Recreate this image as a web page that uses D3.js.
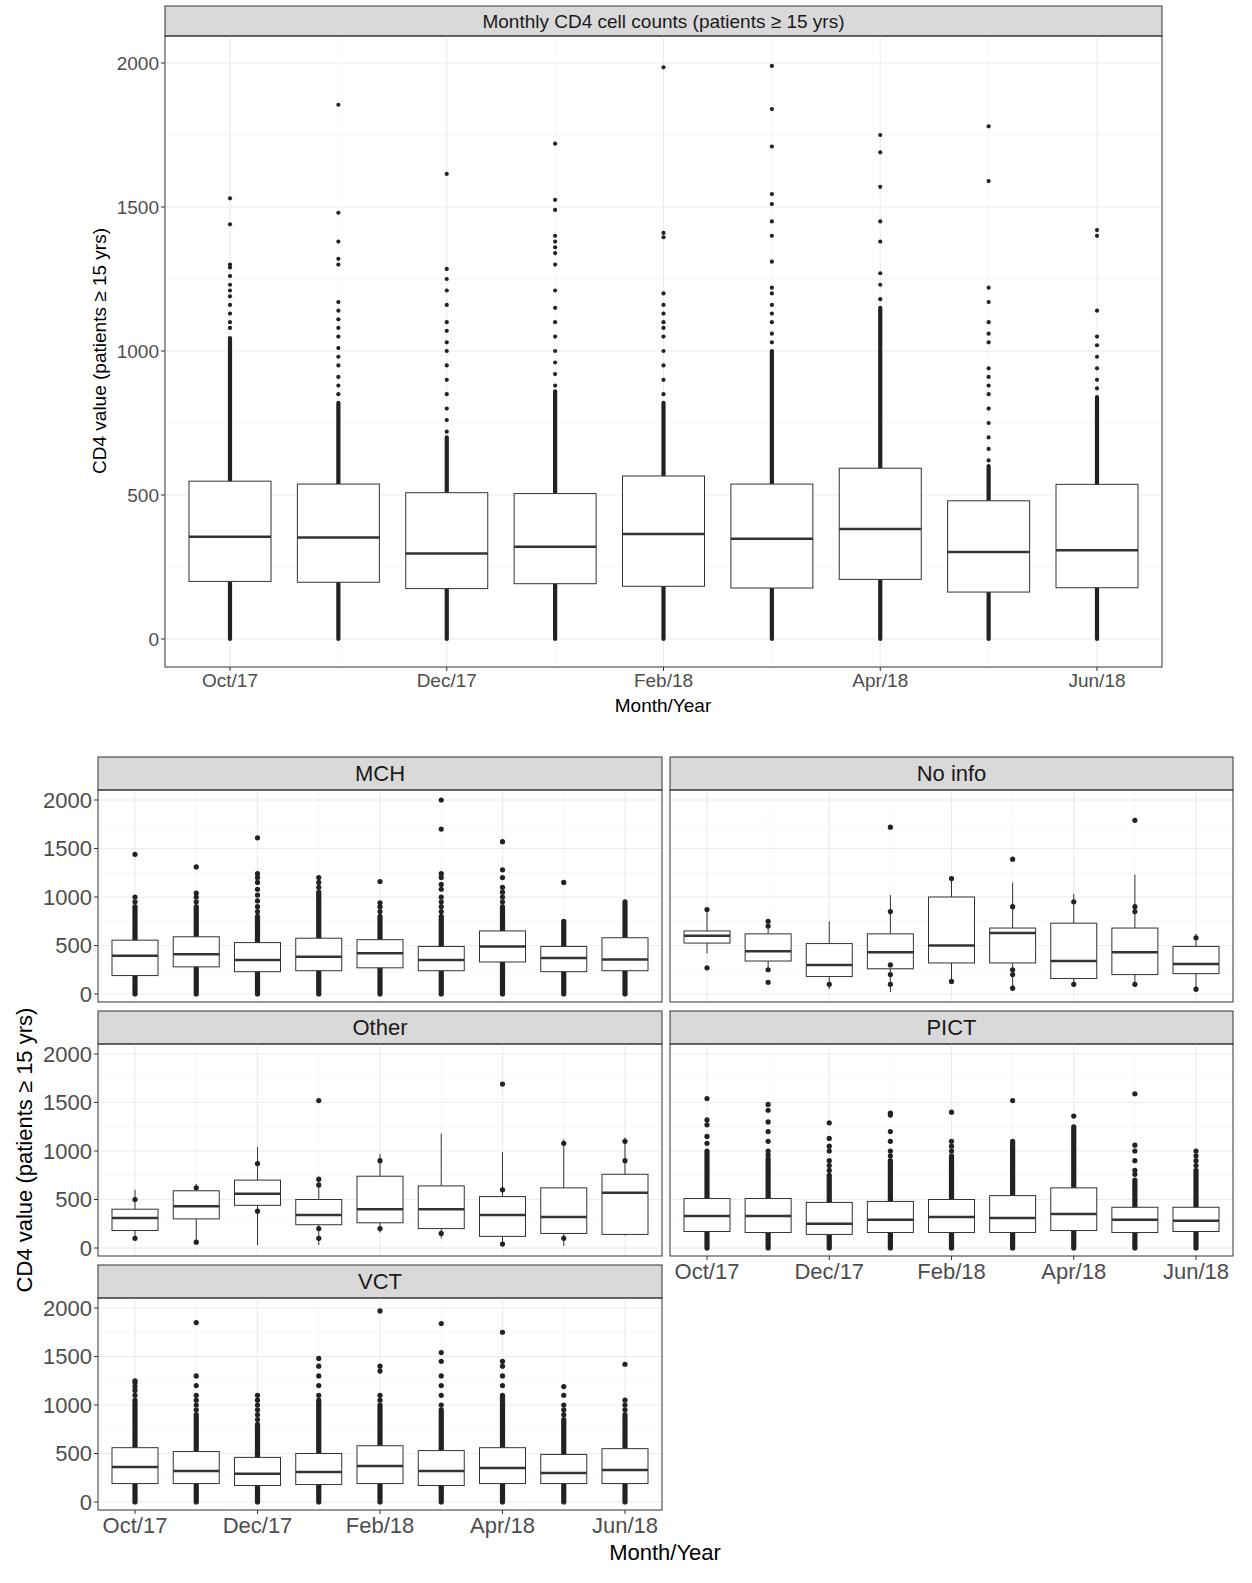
<!DOCTYPE html><html><head><meta charset="utf-8"><script src="https://cdn.jsdelivr.net/npm/d3@7"></script>
<style>body{margin:0;background:#fff}text{font-family:"Liberation Sans",Arial,sans-serif}</style></head><body><svg id="c" width="1252" height="1583"></svg>
<script>
const months=["Oct/17","Nov/17","Dec/17","Jan/18","Feb/18","Mar/18","Apr/18","May/18","Jun/18"];
const tickMonths=["Oct/17","Dec/17","Feb/18","Apr/18","Jun/18"];
const yTicks=[0,500,1000,1500,2000];
// each box: [q1, median, q3, whiskerLow, whiskerHigh, denseTop(0=none)]
const allBoxes=[[200,355,548,0,1045,1045],[197,352,538,0,820,820],[175,297,508,0,700,700],[192,320,505,0,860,860],[183,365,566,0,820,820],[177,348,538,0,1000,1000],[207,382,593,0,1150,1150],[163,302,480,0,600,600],[178,308,537,0,840,840]];
const allOut=[[1080,1100,1130,1160,1190,1210,1230,1260,1290,1300,1440,1530],[850,880,910,950,980,1010,1050,1080,1110,1140,1170,1300,1320,1380,1480,1855],[720,760,800,850,900,950,1000,1030,1070,1100,1160,1210,1250,1285,1615],[880,920,960,1000,1050,1100,1150,1210,1300,1340,1360,1380,1400,1490,1525,1720],[850,900,950,1000,1050,1080,1100,1130,1160,1200,1395,1410,1985],[1030,1060,1100,1130,1160,1200,1220,1310,1400,1450,1510,1545,1710,1840,1990],[1180,1230,1270,1380,1450,1570,1690,1750],[620,660,700,750,800,850,880,910,940,1030,1060,1100,1170,1220,1590,1780],[870,900,940,980,1020,1050,1140,1400,1420]];
const facetNames=["MCH","No info","Other","PICT","VCT"];
const mchBoxes=[[190,395,555,0,900,900],[280,410,590,0,900,900],[230,350,530,0,800,800],[240,385,575,0,1050,1050],[270,420,560,0,800,800],[240,350,490,0,800,800],[330,490,650,80,900,900],[230,370,490,0,750,750],[240,355,580,80,950,950]];
const mchOut=[[950,1000,1440],[950,1000,1040,1310],[850,900,960,1020,1080,1150,1200,1240,1610],[1100,1150,1200],[850,900,940,1160],[850,900,950,1000,1080,1130,1200,1240,1700,2000],[950,1000,1050,1100,1200,1280,1570],[1150],[]];
const noinfoBoxes=[[525,600,650,420,880,0],[340,440,620,250,750,0],[180,300,520,50,750,0],[260,430,620,20,1020,0],[320,500,1000,120,1180,0],[320,630,680,30,1150,0],[160,340,730,90,1030,0],[200,430,680,80,1230,0],[210,310,490,20,620,0]];
const noinfoOut=[[270,870],[750,700,250,120],[100],[1720,850,100,200,300],[1190,130],[1390,900,250,200,60],[950,100],[1790,850,900,100],[580,50]];
const otherBoxes=[[180,310,400,90,600,0],[300,430,590,50,660,0],[440,560,700,30,1040,0],[240,340,500,30,700,0],[260,400,740,160,970,0],[200,400,640,100,1180,0],[120,340,530,20,990,0],[150,320,620,20,1120,0],[140,570,760,130,1140,0]];
const otherOut=[[500,100],[60,620],[870,380],[1520,710,650,200,100],[900,200],[150],[1690,600,40],[1080,100],[1100,900]];
const pictBoxes=[[170,330,510,0,1000,1000],[160,330,510,0,920,920],[140,250,470,0,750,750],[160,290,480,0,900,900],[160,320,500,0,950,950],[160,310,540,0,1100,1100],[180,350,620,0,1250,1250],[160,290,420,0,700,700],[170,280,420,0,800,800]];
const pictOut=[[1080,1150,1270,1320,1540],[960,1000,1100,1200,1300,1420,1480],[800,850,900,1000,1050,1130,1290],[950,1000,1100,1200,1370,1390],[1000,1050,1100,1400],[1520],[1360],[760,800,900,1000,1060,1590],[850,900,950,1000]];
const vctBoxes=[[190,360,560,0,1050,1050],[190,320,520,0,900,900],[170,290,460,0,800,800],[180,310,500,0,1050,1050],[190,370,580,0,1000,1000],[170,320,530,0,950,950],[190,350,560,0,1100,1100],[190,300,490,0,850,850],[190,330,550,0,900,900]];
const vctOut=[[1100,1150,1190,1230,1250],[950,1000,1050,1100,1200,1300,1850],[850,900,950,1000,1050,1100],[1100,1200,1300,1400,1480],[1050,1100,1350,1400,1970],[1000,1100,1200,1300,1450,1540,1840],[1200,1300,1400,1450,1750],[900,950,1000,1100,1190],[950,1000,1050,1420]];

const svg=d3.select("#c");
function panel(o){
  const g=svg.append("g");
  const x=d3.scalePoint().domain(months).range([o.x0+o.pad,o.x1-o.pad]);
  const y=d3.scaleLinear().domain([0,2000]).range([o.y0v,o.y2000]);
  g.append("rect").attr("x",o.x0).attr("y",o.sy).attr("width",o.x1-o.x0).attr("height",o.py0-o.sy).attr("fill","#d9d9d9").attr("stroke","#333").attr("stroke-width",1);
  g.append("text").attr("x",(o.x0+o.x1)/2).attr("y",(o.sy+o.py0)/2).attr("dy","0.35em").attr("text-anchor","middle").attr("font-size",o.fs).attr("fill","#1a1a1a").text(o.title);
  const minor=[250,750,1250,1750];
  minor.forEach(v=>g.append("line").attr("x1",o.x0).attr("x2",o.x1).attr("y1",y(v)).attr("y2",y(v)).attr("stroke","#f2f2f2").attr("stroke-width",0.6));
  months.forEach(m=>{const maj=tickMonths.includes(m);g.append("line").attr("x1",x(m)).attr("x2",x(m)).attr("y1",o.py0).attr("y2",o.py1).attr("stroke",maj?"#ebebeb":"#f2f2f2").attr("stroke-width",maj?1.1:0.6);});
  yTicks.forEach(v=>g.append("line").attr("x1",o.x0).attr("x2",o.x1).attr("y1",y(v)).attr("y2",y(v)).attr("stroke","#ebebeb").attr("stroke-width",1.1));
  const bw=o.bw, r=o.r;
  o.boxes.forEach((b,i)=>{
    const cx=x(months[i]);
    g.append("line").attr("x1",cx).attr("x2",cx).attr("y1",y(b[3])).attr("y2",y(b[0])).attr("stroke","#333");
    g.append("line").attr("x1",cx).attr("x2",cx).attr("y1",y(b[2])).attr("y2",y(b[4])).attr("stroke","#333");
    if(b[5]>0){
      g.append("line").attr("x1",cx).attr("x2",cx).attr("y1",y(0)).attr("y2",y(b[0])).attr("stroke","#222").attr("stroke-width",2*r).attr("stroke-linecap","round");
      g.append("line").attr("x1",cx).attr("x2",cx).attr("y1",y(b[2])).attr("y2",y(b[5])).attr("stroke","#222").attr("stroke-width",2*r).attr("stroke-linecap","round");
    }
    g.append("rect").attr("x",cx-bw/2).attr("y",y(b[2])).attr("width",bw).attr("height",y(b[0])-y(b[2])).attr("fill","#fff").attr("stroke","#333");
    g.append("line").attr("x1",cx-bw/2).attr("x2",cx+bw/2).attr("y1",y(b[1])).attr("y2",y(b[1])).attr("stroke","#333").attr("stroke-width",2.5);
    o.out[i].forEach(v=>g.append("circle").attr("cx",cx).attr("cy",y(v)).attr("r",r).attr("fill","#222"));
  });
  g.append("rect").attr("x",o.x0).attr("y",o.py0).attr("width",o.x1-o.x0).attr("height",o.py1-o.py0).attr("fill","none").attr("stroke","#333");
  if(o.yaxis){yTicks.forEach(v=>{g.append("line").attr("x1",o.x0-4).attr("x2",o.x0).attr("y1",y(v)).attr("y2",y(v)).attr("stroke","#333");
    g.append("text").attr("x",o.x0-6).attr("y",y(v)).attr("dy","0.35em").attr("text-anchor","end").attr("font-size",o.tfs).attr("fill","#4d4d4d").text(v);});}
  if(o.xaxis){tickMonths.forEach(m=>{g.append("line").attr("x1",x(m)).attr("x2",x(m)).attr("y1",o.py1).attr("y2",o.py1+4).attr("stroke","#333");
    g.append("text").attr("x",x(m)).attr("y",o.py1+5).attr("dy","0.8em").attr("text-anchor","middle").attr("font-size",o.tfs).attr("fill","#4d4d4d").text(m);});}
}
panel({x0:165,x1:1162,sy:6,py0:36,py1:667,y0v:639,y2000:63,pad:65,bw:82,r:2.1,fs:19,tfs:19,title:"Monthly CD4 cell counts (patients \u2265 15 yrs)",boxes:allBoxes,out:allOut,yaxis:true,xaxis:true});
svg.append("text").attr("x",663).attr("y",712).attr("text-anchor","middle").attr("font-size",19).text("Month/Year");
svg.append("text").attr("transform","translate(106,351)rotate(-90)").attr("text-anchor","middle").attr("font-size",19).text("CD4 value (patients \u2265 15 yrs)");
const rows=[{sy:757,py0:790,py1:1002},{sy:1011,py0:1044,py1:1256},{sy:1265,py0:1298,py1:1510}];
const cols=[{x0:98,x1:662},{x0:670,x1:1233}];
const fb=[mchBoxes,noinfoBoxes,otherBoxes,pictBoxes,vctBoxes], fo=[mchOut,noinfoOut,otherOut,pictOut,vctOut];
facetNames.forEach((n,i)=>{const r=rows[Math.floor(i/2)],c=cols[i%2];
  panel({x0:c.x0,x1:c.x1,sy:r.sy,py0:r.py0,py1:r.py1,y0v:r.py1-8,y2000:r.py1-202,pad:37,bw:46,r:2.6,fs:22,tfs:22,title:n,boxes:fb[i],out:fo[i],yaxis:i%2==0,xaxis:i>=3});});
svg.append("text").attr("x",665).attr("y",1560).attr("text-anchor","middle").attr("font-size",22).text("Month/Year");
svg.append("text").attr("transform","translate(32,1150)rotate(-90)").attr("text-anchor","middle").attr("font-size",22).text("CD4 value (patients \u2265 15 yrs)");
</script></body></html>
